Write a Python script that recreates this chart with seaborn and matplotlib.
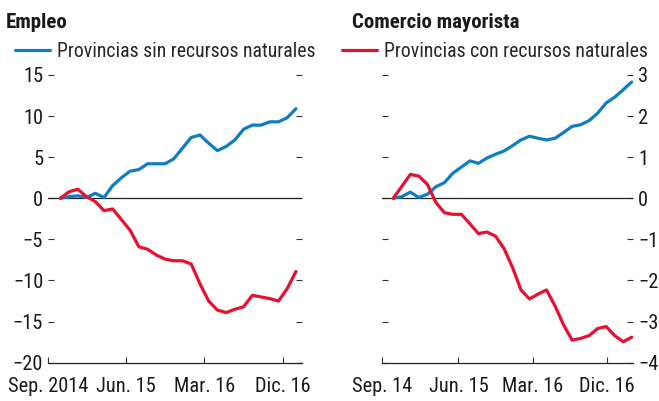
import matplotlib
matplotlib.use("Agg")
import matplotlib.pyplot as plt
from matplotlib import font_manager as fm
import seaborn as sns
import pandas as pd

# Empleo (28 meses)
empleo_sin = [0.0, 0.2, 0.3, 0.1, 0.6, 0.1, 1.55, 2.5, 3.3, 3.5, 4.2, 4.2, 4.2, 4.8,
              6.1, 7.4, 7.7, 6.7, 5.8, 6.3, 7.1, 8.4, 8.9, 8.9, 9.3, 9.3, 9.8, 10.9]
empleo_con = [0.0, 0.8, 1.1, 0.2, -0.4, -1.5, -1.3, -2.6, -3.9, -5.9, -6.2, -6.9, -7.4, -7.6,
              -7.6, -8.0, -10.4, -12.5, -13.6, -13.9, -13.5, -13.2, -11.8, -12.0, -12.2, -12.5,
              -11.0, -8.9]

# Comercio mayorista (29 meses)
comercio_sin = [0.0, 0.04, 0.15, 0.02, 0.1, 0.28, 0.38, 0.61, 0.76, 0.91, 0.85, 0.98, 1.07,
                1.15, 1.28, 1.42, 1.51, 1.46, 1.42, 1.46, 1.60, 1.75, 1.79, 1.89, 2.07, 2.32,
                2.46, 2.64, 2.83]
comercio_con = [0.0, 0.29, 0.58, 0.54, 0.34, -0.1, -0.35, -0.39, -0.39, -0.62, -0.86, -0.82,
                -0.92, -1.22, -1.68, -2.23, -2.45, -2.33, -2.23, -2.62, -3.08, -3.45, -3.41,
                -3.34, -3.17, -3.12, -3.34, -3.49, -3.38]

x_labels_empleo = ["Sep. 2014", "Jun. 15", "Mar. 16", "Dic. 16"]
x_labels_comercio = ["Sep. 14", "Jun. 15", "Mar. 16", "Dic. 16"]

SIN = "Provincias sin recursos naturales"
CON = "Provincias con recursos naturales"
BLUE = "#0E7DC2"
RED = "#E8102F"

sns.set_theme(style="white")

# pick a narrow sans if one is installed
entries = fm.fontManager.ttflist
names = {f.name for f in entries}
stretch = "normal"
if "Liberation Sans Narrow" in names:
    family = "Liberation Sans Narrow"
elif "Roboto Condensed" in names:
    family = "Roboto Condensed"
elif any(f.name == "DejaVu Sans" and str(f.stretch) in ("condensed", "semi-condensed", "600")
         for f in entries):
    family, stretch = "DejaVu Sans", "condensed"
elif any(f.name == "Roboto" and "condensed" in str(f.stretch) for f in entries):
    family, stretch = "Roboto", "condensed"
else:
    family = "Liberation Sans"
plt.rcParams["font.family"] = [family, "DejaVu Sans"]
plt.rcParams["font.stretch"] = stretch

fig = plt.figure(figsize=(6.59, 4.01), dpi=100)
fig.canvas.draw()
renderer = fig.canvas.get_renderer()


def fit_size(text, target_px, weight="normal"):
    t = fig.text(0, 0, text, size=12, weight=weight)
    w = t.get_window_extent(renderer).width
    t.remove()
    return 12 * target_px / w


tick_size = fit_size("Sep. 2014", 80)
leg_size = fit_size(SIN, 258)
title_size = fit_size("Comercio mayorista", 168, "bold")

ax1 = fig.add_axes([0.0724, 0.0955, 0.3859, 0.7175])
ax2 = fig.add_axes([0.5792, 0.0955, 0.3813, 0.7175])


def draw_panel(ax, sin, con, keep):
    n = len(sin)
    df = pd.DataFrame({
        "mes": list(range(n)) * 2,
        "valor": sin + con,
        "serie": [SIN] * n + [CON] * n,
    })
    ax.axhline(0, color="#222222", lw=0.9, zorder=1)
    sns.lineplot(data=df, x="mes", y="valor", hue="serie",
                 palette={SIN: BLUE, CON: RED}, linewidth=2.3, ax=ax, zorder=3)
    leg = ax.get_legend()
    handles = leg.legend_handles
    labels = [t.get_text() for t in leg.get_texts()]
    leg.remove()
    i = labels.index(keep)
    ax.set_xlabel("")
    ax.set_ylabel("")
    for s in ["top", "left", "right"]:
        ax.spines[s].set_visible(False)
    ax.spines["bottom"].set_color("#222222")
    ax.spines["bottom"].set_linewidth(0.9)
    ax.tick_params(axis="both", direction="in", length=4.5, width=0.8,
                   color="#333333", labelsize=tick_size, labelcolor="#1a1a1a")
    ax.tick_params(axis="x", bottom=True, pad=10)
    return handles[i], labels[i]


h1, l1 = draw_panel(ax1, empleo_sin, empleo_con, SIN)
ax1.set_ylim(-20, 15)
ax1.set_yticks(range(-20, 16, 5))
ax1.set_xlim(-1.45, 27.7)
ax1.set_xticks([-1.45, 7.55, 16.5, 25.5])
ax1.set_xticklabels(x_labels_empleo)
ax1.tick_params(axis="y", left=True, right=True, labelleft=True, labelright=False, pad=3.3)

h2, l2 = draw_panel(ax2, comercio_sin, comercio_con, CON)
ax2.set_ylim(-4, 3)
ax2.set_yticks(range(-4, 4))
ax2.set_xlim(-1.36, 28.15)
ax2.set_xticks([-1.36, 7.65, 16.4, 25.1])
ax2.set_xticklabels(x_labels_comercio)
ax2.tick_params(axis="y", left=True, right=True, labelleft=False, labelright=True, pad=3.6)

for ax, h, l, x0 in [(ax1, h1, l1, 15 / 659), (ax2, h2, l2, 342 / 659)]:
    ax.legend([h], [l], loc="center left", bbox_to_anchor=(x0, 1 - 51.7 / 401),
              bbox_transform=fig.transFigure, frameon=False, borderpad=0,
              borderaxespad=0, handlelength=25 / leg_size, handletextpad=5 / leg_size,
              prop={"size": leg_size})

fig.text(6 / 659, 1 - 28 / 401, "Empleo", weight="bold", size=title_size,
         va="baseline", color="#1a1a1a")
fig.text(352 / 659, 1 - 28 / 401, "Comercio mayorista", weight="bold", size=title_size,
         va="baseline", color="#1a1a1a")

fig.savefig("out.png", dpi=100)
